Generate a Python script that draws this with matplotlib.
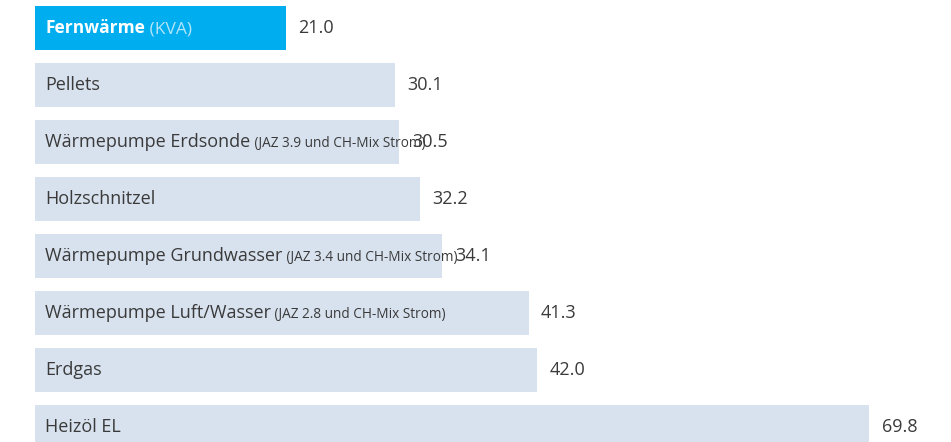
import matplotlib.pyplot as plt

labels = ['Fernwärme', 'Pellets', 'Wärmepumpe Erdsonde', 'Holzschnitzel',
          'Wärmepumpe Grundwasser', 'Wärmepumpe Luft/Wasser', 'Erdgas', 'Heizöl EL']
suffixes = ['(KVA)', '', '(JAZ 3.9 und CH-Mix Strom)', '',
            '(JAZ 3.4 und CH-Mix Strom)', '(JAZ 2.8 und CH-Mix Strom)', '', '']
values = [21.0, 30.1, 30.5, 32.2, 34.1, 41.3, 42.0, 69.8]

plt.rcParams['font.family'] = ['Open Sans', 'DejaVu Sans']

fig = plt.figure(figsize=(9.51, 4.42), dpi=100)
ax = fig.add_axes([35 / 951, 0, 916 / 951, 1])

colors = ['#00AEEF'] + ['#D8E2EE'] * (len(values) - 1)
y = list(range(len(values)))
ax.barh(y, values, height=44 / 57, color=colors)

ax.set_xlim(0, 916 / 11.95)
ax.set_ylim((442 - 28) / 57, -28 / 57)
ax.axis('off')

for i, (lab, suf, v) in enumerate(zip(labels, suffixes, values)):
    if i == 0:
        t = ax.annotate(lab, xy=(0, i), xytext=(7.5, 0), textcoords='offset points',
                        va='center', ha='left', fontsize=12.5, color='white', fontweight='bold')
        ax.annotate(' ' + suf, xy=(1, 0), xycoords=t, va='bottom', ha='left',
                    fontsize=12.5, color='#B5E5F9')
    else:
        t = ax.annotate(lab, xy=(0, i), xytext=(7.5, 0), textcoords='offset points',
                        va='center', ha='left', fontsize=13, color='#3a3a3a')
        if suf:
            ax.annotate(' ' + suf, xy=(1, 0), xycoords=t, va='bottom', ha='left',
                        fontsize=9.8, color='#3a3a3a')
    ax.annotate(f'{v:.1f}', xy=(v, i), xytext=(9, 0), textcoords='offset points',
                va='center', ha='left', fontsize=13, color='#3a3a3a')

fig.savefig('out.png', dpi=100)
